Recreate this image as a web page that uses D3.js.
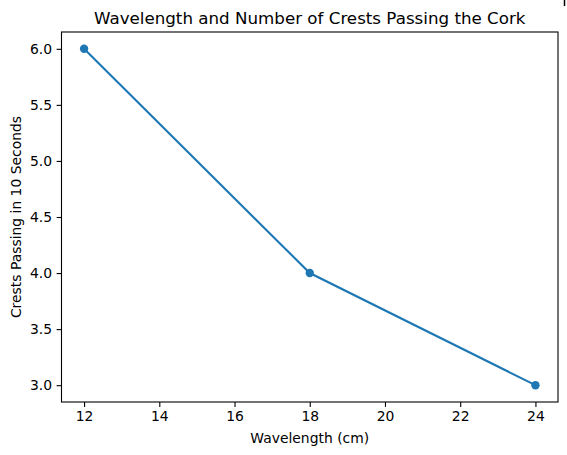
<!DOCTYPE html>
<html>
<head>
    <meta charset="utf-8">
    <title>Wavelength and Crests</title>
    <script src="https://d3js.org/d3.v7.min.js"></script>
    <style>
        body { margin: 0; background: #fff; }
        text { font-family: "DejaVu Sans", sans-serif; fill: #000; }
    </style>
</head>
<body>
<div id="chart"></div>
<script>
    // data
    var wavelengths = [12, 18, 24];
    var crests = [6, 4, 3];
    var xTicks = [12, 14, 16, 18, 20, 22, 24];
    var yTicks = [3.0, 3.5, 4.0, 4.5, 5.0, 5.5, 6.0];

    var width = 567, height = 455;
    // plot box (window.top is reserved, so use other names)
    var plotLeft = 61.5, plotRight = 558, plotTop = 32, plotBottom = 402;
    var blue = "#1f77b4";

    var svg = d3.select("#chart").append("svg")
        .attr("width", width)
        .attr("height", height);

    // matplotlib style 5% margins
    var x = d3.scaleLinear().domain([11.4, 24.6]).range([plotLeft, plotRight]);
    var y = d3.scaleLinear().domain([2.85, 6.15]).range([plotBottom, plotTop]);

    var xAxis = d3.axisBottom(x).tickValues(xTicks).tickSize(4.9).tickPadding(4.5)
        .tickFormat(d3.format("d"));
    var yAxis = d3.axisLeft(y).tickValues(yTicks).tickSize(4.9).tickPadding(4.5)
        .tickFormat(d3.format(".1f"));

    var gx = svg.append("g")
        .attr("transform", "translate(0," + plotBottom + ")")
        .call(xAxis);
    var gy = svg.append("g")
        .attr("transform", "translate(" + plotLeft + ",0)")
        .call(yAxis);

    [gx, gy].forEach(function (g) {
        g.select(".domain").remove();
        g.selectAll(".tick line").attr("stroke", "#000").attr("stroke-width", 1.1);
        g.selectAll(".tick text").style("font-size", "13.9px").style("font-family", "DejaVu Sans");
    });

    // frame
    svg.append("rect")
        .attr("x", plotLeft).attr("y", plotTop)
        .attr("width", plotRight - plotLeft).attr("height", plotBottom - plotTop)
        .attr("fill", "none").attr("stroke", "#000").attr("stroke-width", 1.1);

    var pts = wavelengths.map(function (w, i) { return [w, crests[i]]; });

    svg.append("path")
        .datum(pts)
        .attr("fill", "none")
        .attr("stroke", blue)
        .attr("stroke-width", 2.1)
        .attr("d", d3.line()
            .x(function (d) { return x(d[0]); })
            .y(function (d) { return y(d[1]); }));

    svg.selectAll("circle.pt")
        .data(pts)
        .enter().append("circle")
        .attr("class", "pt")
        .attr("cx", function (d) { return x(d[0]); })
        .attr("cy", function (d) { return y(d[1]); })
        .attr("r", 4.2)
        .attr("fill", blue);

    // title and labels
    svg.append("text")
        .attr("x", (plotLeft + plotRight) / 2).attr("y", 24)
        .attr("text-anchor", "middle")
        .style("font-size", "16.7px")
        .text("Wavelength and Number of Crests Passing the Cork");

    svg.append("text")
        .attr("x", (plotLeft + plotRight) / 2).attr("y", 443)
        .attr("text-anchor", "middle")
        .style("font-size", "13.9px")
        .text("Wavelength (cm)");

    svg.append("text")
        .attr("transform", "translate(21," + ((plotTop + plotBottom) / 2) + ") rotate(-90)")
        .attr("text-anchor", "middle")
        .style("font-size", "13.9px")
        .text("Crests Passing in 10 Seconds");

    // small stray mark at the top right corner of the picture
    svg.append("line")
        .attr("x1", 564.5).attr("x2", 564.5).attr("y1", 0).attr("y2", 6)
        .attr("stroke", "#000").attr("stroke-width", 1.5);
</script>
</body>
</html>
